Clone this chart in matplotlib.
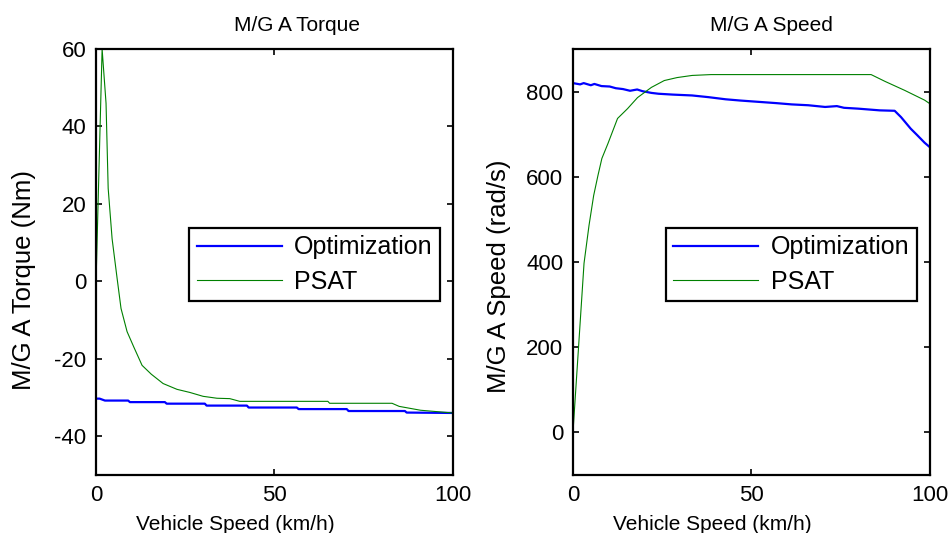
import matplotlib
matplotlib.use("Agg")
import matplotlib.pyplot as plt

plt.rcParams['font.family'] = ['Liberation Sans', 'DejaVu Sans']

# Torque data
opt_torque_x = [0, 1.0, 2.5, 9, 9.5, 19.3, 19.8, 30.5, 31, 42.3, 42.8, 56.3, 56.8, 70.3, 70.8, 86.6, 87.1, 100]
opt_torque_y = [-30.3, -30.3, -30.8, -30.8, -31.2, -31.2, -31.6, -31.6, -32.1, -32.1, -32.6, -32.6, -33.0, -33.0, -33.5, -33.5, -33.9, -34.0]

psat_torque_x = [0, 1.7, 2.8, 3.4, 4.5, 5.9, 7.0, 8.7, 10.6, 12.9, 15.5, 18.8, 22.7, 26.3, 30, 33.9, 37.5, 40.3, 65, 65.5, 83, 85, 91, 100]
psat_torque_y = [0, 60, 46, 24, 11, 0.8, -7, -13, -17, -21.7, -24, -26.4, -27.9, -28.7, -29.7, -30.2, -30.3, -31.0, -31.0, -31.5, -31.5, -32.3, -33.3, -34.0]

# Speed data
opt_speed_x = [0, 2, 3, 5, 6, 8, 10.3, 12, 14, 16, 18, 19.5, 22, 24, 28, 33.4, 38, 42.8, 47, 52, 57, 61.3, 66, 70.7, 74, 76, 80, 83, 86, 90.2, 92, 94.7, 96.5, 98.6, 100]
opt_speed_y = [820, 817, 820, 815, 818, 813, 812, 808, 806, 802, 805, 801, 797, 795, 793, 791, 787, 782, 779, 776, 773, 770, 768, 764, 766, 762, 760, 758, 756, 755, 740, 713, 698, 680, 670]

psat_speed_x = [0, 3.1, 4.5, 5.8, 7.0, 8.1, 9.8, 12.5, 15.3, 18.1, 22, 25.6, 29.2, 33.4, 38.7, 83.6, 87.5, 93, 98.6, 100]
psat_speed_y = [0, 397, 486, 556, 603, 643, 678, 737, 760, 786, 810, 826, 833, 838, 840, 840, 824, 803, 780, 772]

titles = ['M/G A Torque', 'M/G A Speed']
ylabels = ['M/G A Torque (Nm)', 'M/G A Speed (rad/s)']
xlabel = 'Vehicle Speed (km/h)'
legend_labels = ['Optimization', 'PSAT']

fig = plt.figure(figsize=(9.51, 5.33), dpi=100)
ax1 = fig.add_axes([0.101, 0.109, 0.375, 0.799])
ax2 = fig.add_axes([0.6025, 0.109, 0.375, 0.799])

blue = (0, 0, 1)
green = (0, 0.5, 0)

ax1.plot(opt_torque_x, opt_torque_y, color=blue, lw=1.6, label=legend_labels[0])
ax1.plot(psat_torque_x, psat_torque_y, color=green, lw=0.8, label=legend_labels[1])
ax1.set_xlim(0, 100)
ax1.set_ylim(-50, 60)
ax1.set_yticks([-40, -20, 0, 20, 40, 60])
ax1.set_yticklabels(['-40', '-20', '0', '20', '40', '60'])

ax2.plot(opt_speed_x, opt_speed_y, color=blue, lw=1.6, label=legend_labels[0])
ax2.plot(psat_speed_x, psat_speed_y, color=green, lw=0.8, label=legend_labels[1])
ax2.set_xlim(0, 100)
ax2.set_ylim(-100, 900)
ax2.set_yticks([0, 200, 400, 600, 800])

title_x = [0.563, 0.557]
ylab_xy = [(-0.168, 0.458), (-0.174, 0.467)]
for ax, t, yl, tx, yxy in zip([ax1, ax2], titles, ylabels, title_x, ylab_xy):
    ax.set_xticks([0, 50, 100])
    ax.set_title(t, fontsize=15, pad=13, x=tx)
    ax.set_xlabel(xlabel, fontsize=15)
    ax.xaxis.set_label_coords(0.39, -0.093)
    ax.set_ylabel(yl, fontsize=18.5)
    ax.yaxis.set_label_coords(*yxy)
    ax.tick_params(direction='in', top=True, right=True, labelsize=16, length=4, width=1.2, pad=7)
    for s in ax.spines.values():
        s.set_linewidth(1.6)
    leg = ax.legend(loc='upper right', bbox_to_anchor=(0.965, 0.58),
                    prop={'size': 18},
                    frameon=True, fancybox=False, edgecolor='black', framealpha=1,
                    borderpad=0.3, handlelength=3.4, handletextpad=0.5,
                    labelspacing=0.42, borderaxespad=0)
    leg.get_frame().set_linewidth(1.6)

fig.savefig('out.png', dpi=100)
